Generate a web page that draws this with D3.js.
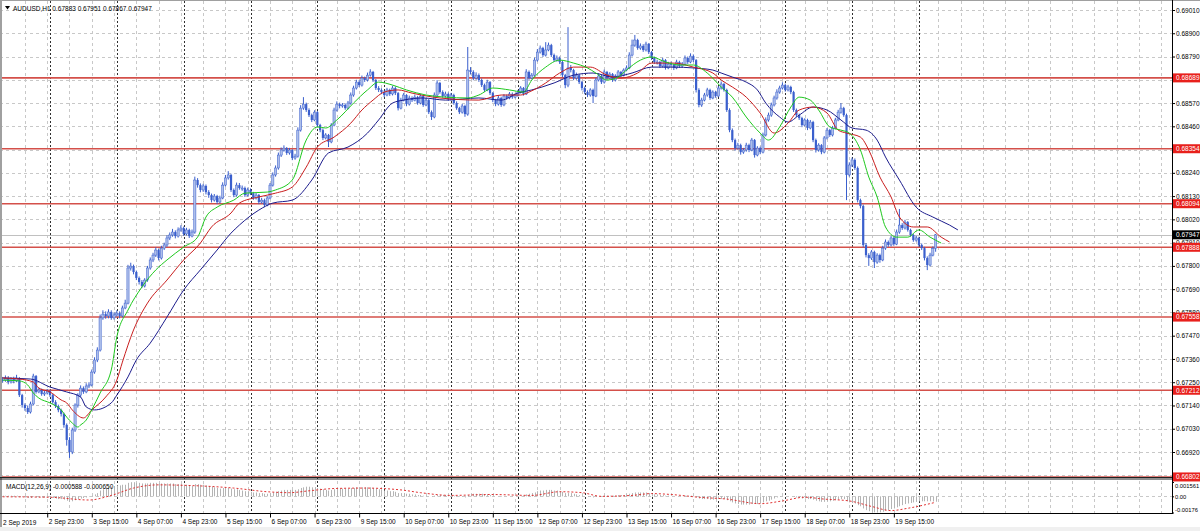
<!DOCTYPE html>
<html><head><meta charset="utf-8">
<script src="https://cdn.jsdelivr.net/npm/d3@7"></script>
<style>
body{margin:0;background:#fff;overflow:hidden;}
svg{display:block;}
text{font-family:"Liberation Sans",Arial,sans-serif;}
</style>
</head><body><svg id="c" width="1200" height="531"></svg>
<script>
// ---------------- DATA ----------------
const symbolTitle = "AUDUSD,H1";
const lastQuote = "0.67883 0.67951 0.67867 0.67947";
const macdTitle = "MACD(12,26,9) -0.000588 -0.000650";

const opens = [
0.67262,0.67260,0.67270,0.67251,0.67265,0.67256,0.67270,0.67189,0.67142,0.67128,
0.67109,0.67147,0.67279,0.67204,0.67213,0.67194,0.67199,0.67208,0.67189,0.67156,
0.67137,0.67118,0.67100,0.67048,0.66977,0.66920,0.67024,0.67142,0.67189,0.67222,
0.67204,0.67232,0.67237,0.67298,0.67355,0.67402,0.67554,0.67572,0.67563,0.67582,
0.67554,0.67568,0.67577,0.67563,0.67601,0.67624,0.67790,0.67799,0.67771,0.67743,
0.67724,0.67705,0.67733,0.67790,0.67828,0.67851,0.67875,0.67837,0.67884,0.67899,
0.67932,0.67946,0.67960,0.67941,0.67970,0.67979,0.67951,0.67970,0.67941,0.67960,
0.68206,0.68182,0.68159,0.68178,0.68149,0.68135,0.68111,0.68130,0.68102,0.68121,
0.68182,0.68216,0.68230,0.68159,0.68135,0.68182,0.68168,0.68168,0.68135,0.68159,
0.68144,0.68121,0.68135,0.68102,0.68111,0.68088,0.68121,0.68182,0.68230,0.68263,
0.68324,0.68348,0.68357,0.68334,0.68348,0.68310,0.68319,0.68442,0.68546,0.68565,
0.68537,0.68513,0.68490,0.68527,0.68466,0.68442,0.68405,0.68419,0.68386,0.68466,
0.68537,0.68565,0.68556,0.68561,0.68546,0.68570,0.68608,0.68641,0.68669,0.68655,
0.68688,0.68679,0.68702,0.68717,0.68679,0.68641,0.68632,0.68622,0.68608,0.68632,
0.68613,0.68641,0.68617,0.68546,0.68584,0.68608,0.68565,0.68594,0.68584,0.68598,
0.68570,0.68603,0.68561,0.68584,0.68527,0.68504,0.68608,0.68665,0.68622,0.68603,
0.68613,0.68589,0.68608,0.68570,0.68546,0.68527,0.68556,0.68518,0.68726,0.68717,
0.68688,0.68702,0.68679,0.68655,0.68632,0.68669,0.68617,0.68584,0.68565,0.68594,
0.68561,0.68603,0.68594,0.68613,0.68598,0.68608,0.68622,0.68641,0.68613,0.68717,
0.68688,0.68702,0.68773,0.68811,0.68830,0.68797,0.68821,0.68844,0.68797,0.68773,
0.68783,0.68764,0.68702,0.68655,0.68736,0.68726,0.68688,0.68702,0.68669,0.68641,
0.68622,0.68608,0.68632,0.68603,0.68679,0.68698,0.68669,0.68717,0.68688,0.68707,
0.68679,0.68698,0.68717,0.68702,0.68726,0.68736,0.68797,0.68844,0.68868,0.68830,
0.68840,0.68821,0.68849,0.68811,0.68783,0.68764,0.68764,0.68745,0.68773,0.68736,
0.68754,0.68750,0.68736,0.68764,0.68745,0.68754,0.68783,0.68764,0.68792,0.68773,
0.68632,0.68561,0.68584,0.68608,0.68632,0.68594,0.68622,0.68603,0.68641,0.68660,
0.68632,0.68537,0.68442,0.68395,0.68357,0.68371,0.68338,0.68348,0.68371,0.68348,
0.68395,0.68324,0.68357,0.68338,0.68419,0.68490,0.68513,0.68561,0.68594,0.68622,
0.68641,0.68655,0.68632,0.68646,0.68622,0.68537,0.68513,0.68499,0.68466,0.68490,
0.68452,0.68480,0.68395,0.68348,0.68371,0.68338,0.68405,0.68442,0.68419,0.68452,
0.68490,0.68527,0.68546,0.68513,0.68230,0.68277,0.68301,0.68263,0.68111,0.68083,
0.67899,0.67851,0.67837,0.67866,0.67818,0.67851,0.67828,0.67884,0.67913,0.67899,
0.67932,0.67903,0.67960,0.67993,0.67979,0.68007,0.67970,0.67946,0.67922,0.67932,
0.67899,0.67884,0.67837,0.67804,0.67851,0.67883];

const highs = [
0.67275,0.67282,0.67279,0.67273,0.67276,0.67285,0.67274,0.67195,0.67150,0.67140,
0.67158,0.67290,0.67284,0.67225,0.67220,0.67210,0.67218,0.67214,0.67195,0.67165,
0.67144,0.67125,0.67106,0.67055,0.66990,0.67035,0.67150,0.67198,0.67235,0.67230,
0.67245,0.67250,0.67310,0.67368,0.67415,0.67570,0.67590,0.67585,0.67595,0.67590,
0.67580,0.67590,0.67585,0.67612,0.67640,0.67805,0.67815,0.67806,0.67778,0.67750,
0.67733,0.67742,0.67800,0.67840,0.67862,0.67888,0.67882,0.67895,0.67910,0.67945,
0.67958,0.67975,0.67968,0.67982,0.67992,0.67986,0.67980,0.67976,0.67972,0.68222,
0.68215,0.68190,0.68188,0.68185,0.68158,0.68142,0.68140,0.68136,0.68132,0.68195,
0.68230,0.68248,0.68236,0.68166,0.68194,0.68192,0.68180,0.68175,0.68170,0.68166,
0.68150,0.68145,0.68140,0.68122,0.68118,0.68130,0.68192,0.68242,0.68275,0.68336,
0.68360,0.68370,0.68362,0.68358,0.68352,0.68330,0.68455,0.68560,0.68598,0.68572,
0.68545,0.68520,0.68536,0.68532,0.68472,0.68450,0.68428,0.68424,0.68475,0.68548,
0.68578,0.68572,0.68570,0.68568,0.68580,0.68620,0.68652,0.68680,0.68678,0.68700,
0.68695,0.68714,0.68730,0.68722,0.68684,0.68650,0.68640,0.68630,0.68642,0.68638,
0.68652,0.68648,0.68622,0.68595,0.68618,0.68612,0.68605,0.68602,0.68610,0.68604,
0.68612,0.68608,0.68594,0.68590,0.68535,0.68620,0.68678,0.68670,0.68630,0.68624,
0.68620,0.68618,0.68614,0.68578,0.68552,0.68566,0.68562,0.68835,0.68740,0.68725,
0.68715,0.68710,0.68686,0.68662,0.68680,0.68674,0.68622,0.68590,0.68604,0.68600,
0.68612,0.68610,0.68622,0.68620,0.68616,0.68632,0.68650,0.68646,0.68730,0.68724,
0.68712,0.68785,0.68825,0.68842,0.68836,0.68858,0.68856,0.68850,0.68804,0.68795,
0.68790,0.68770,0.68708,0.68929,0.68750,0.68732,0.68714,0.68708,0.68675,0.68648,
0.68630,0.68640,0.68638,0.68690,0.68710,0.68704,0.68728,0.68722,0.68716,0.68712,
0.68706,0.68726,0.68722,0.68734,0.68748,0.68810,0.68870,0.68892,0.68874,0.68852,
0.68848,0.68860,0.68854,0.68816,0.68790,0.68775,0.68770,0.68784,0.68778,0.68765,
0.68766,0.68756,0.68775,0.68770,0.68764,0.68795,0.68790,0.68805,0.68800,0.68778,
0.68640,0.68595,0.68618,0.68642,0.68638,0.68630,0.68628,0.68650,0.68672,0.68666,
0.68638,0.68545,0.68450,0.68402,0.68382,0.68378,0.68358,0.68382,0.68378,0.68405,
0.68400,0.68366,0.68364,0.68430,0.68502,0.68525,0.68572,0.68605,0.68635,0.68652,
0.68668,0.68662,0.68656,0.68652,0.68628,0.68544,0.68520,0.68505,0.68498,0.68496,
0.68490,0.68486,0.68402,0.68380,0.68376,0.68414,0.68452,0.68448,0.68462,0.68500,
0.68538,0.68570,0.68552,0.68520,0.68290,0.68312,0.68308,0.68270,0.68118,0.68090,
0.67908,0.67860,0.67875,0.67872,0.67860,0.67858,0.67895,0.67925,0.67920,0.67942,
0.67938,0.67972,0.68069,0.68002,0.68018,0.68012,0.67976,0.67952,0.67942,0.67938,
0.67906,0.67890,0.67845,0.67862,0.67892,0.67951];

const lows = [
0.67248,0.67252,0.67240,0.67244,0.67245,0.67250,0.67180,0.67130,0.67115,0.67100,
0.67102,0.67140,0.67196,0.67198,0.67186,0.67185,0.67192,0.67180,0.67148,0.67128,
0.67108,0.67088,0.67035,0.66950,0.66892,0.66910,0.67015,0.67130,0.67180,0.67195,
0.67198,0.67222,0.67230,0.67290,0.67345,0.67395,0.67545,0.67550,0.67552,0.67545,
0.67546,0.67560,0.67552,0.67556,0.67595,0.67618,0.67778,0.67760,0.67733,0.67712,
0.67695,0.67698,0.67725,0.67782,0.67818,0.67842,0.67826,0.67830,0.67875,0.67890,
0.67922,0.67938,0.67930,0.67934,0.67962,0.67942,0.67944,0.67932,0.67935,0.67952,
0.68170,0.68148,0.68150,0.68138,0.68122,0.68100,0.68104,0.68092,0.68095,0.68115,
0.68175,0.68208,0.68150,0.68125,0.68128,0.68160,0.68155,0.68126,0.68128,0.68135,
0.68112,0.68114,0.68092,0.68094,0.68078,0.68082,0.68115,0.68175,0.68222,0.68255,
0.68315,0.68340,0.68325,0.68326,0.68300,0.68302,0.68312,0.68435,0.68538,0.68528,
0.68504,0.68480,0.68484,0.68455,0.68432,0.68395,0.68398,0.68362,0.68380,0.68460,
0.68530,0.68545,0.68548,0.68538,0.68540,0.68562,0.68600,0.68634,0.68646,0.68648,
0.68670,0.68672,0.68695,0.68670,0.68632,0.68622,0.68612,0.68598,0.68602,0.68604,
0.68606,0.68608,0.68535,0.68540,0.68578,0.68555,0.68558,0.68575,0.68578,0.68562,
0.68564,0.68552,0.68555,0.68518,0.68490,0.68498,0.68600,0.68614,0.68595,0.68596,
0.68580,0.68582,0.68562,0.68538,0.68518,0.68520,0.68505,0.68510,0.68705,0.68678,
0.68680,0.68670,0.68646,0.68622,0.68626,0.68608,0.68574,0.68555,0.68558,0.68552,
0.68555,0.68586,0.68588,0.68590,0.68592,0.68600,0.68615,0.68605,0.68608,0.68680,
0.68682,0.68695,0.68766,0.68804,0.68788,0.68790,0.68815,0.68788,0.68765,0.68766,
0.68755,0.68692,0.68640,0.68645,0.68715,0.68678,0.68680,0.68660,0.68630,0.68612,
0.68598,0.68600,0.68570,0.68598,0.68672,0.68660,0.68662,0.68680,0.68682,0.68670,
0.68672,0.68690,0.68694,0.68696,0.68720,0.68730,0.68790,0.68836,0.68822,0.68822,
0.68812,0.68814,0.68802,0.68774,0.68755,0.68752,0.68736,0.68738,0.68728,0.68730,
0.68740,0.68726,0.68730,0.68736,0.68738,0.68748,0.68755,0.68758,0.68764,0.68620,
0.68550,0.68552,0.68578,0.68600,0.68585,0.68588,0.68595,0.68598,0.68634,0.68624,
0.68528,0.68432,0.68385,0.68345,0.68350,0.68326,0.68330,0.68340,0.68338,0.68342,
0.68312,0.68318,0.68328,0.68332,0.68412,0.68482,0.68505,0.68554,0.68586,0.68614,
0.68634,0.68624,0.68625,0.68612,0.68528,0.68504,0.68490,0.68456,0.68460,0.68442,
0.68446,0.68385,0.68336,0.68340,0.68328,0.68332,0.68398,0.68410,0.68412,0.68446,
0.68484,0.68520,0.68505,0.68111,0.68222,0.68268,0.68254,0.68100,0.68072,0.67888,
0.67840,0.67800,0.67828,0.67790,0.67810,0.67815,0.67822,0.67876,0.67890,0.67892,
0.67895,0.67898,0.67952,0.67970,0.67972,0.67962,0.67938,0.67914,0.67915,0.67890,
0.67875,0.67826,0.67780,0.67798,0.67845,0.67867];

const closes = [
0.67260,0.67270,0.67251,0.67265,0.67256,0.67270,0.67189,0.67142,0.67128,0.67109,
0.67147,0.67279,0.67204,0.67213,0.67194,0.67199,0.67208,0.67189,0.67156,0.67137,
0.67118,0.67100,0.67048,0.66977,0.66920,0.67024,0.67142,0.67189,0.67222,0.67204,
0.67232,0.67237,0.67298,0.67355,0.67402,0.67554,0.67572,0.67563,0.67582,0.67554,
0.67568,0.67577,0.67563,0.67601,0.67624,0.67790,0.67799,0.67771,0.67743,0.67724,
0.67705,0.67733,0.67790,0.67828,0.67851,0.67875,0.67837,0.67884,0.67899,0.67932,
0.67946,0.67960,0.67941,0.67970,0.67979,0.67951,0.67970,0.67941,0.67960,0.68206,
0.68182,0.68159,0.68178,0.68149,0.68135,0.68111,0.68130,0.68102,0.68121,0.68182,
0.68216,0.68230,0.68159,0.68135,0.68182,0.68168,0.68168,0.68135,0.68159,0.68144,
0.68121,0.68135,0.68102,0.68111,0.68088,0.68121,0.68182,0.68230,0.68263,0.68324,
0.68348,0.68357,0.68334,0.68348,0.68310,0.68319,0.68442,0.68546,0.68565,0.68537,
0.68513,0.68490,0.68527,0.68466,0.68442,0.68405,0.68419,0.68386,0.68466,0.68537,
0.68565,0.68556,0.68561,0.68546,0.68570,0.68608,0.68641,0.68669,0.68655,0.68688,
0.68679,0.68702,0.68717,0.68679,0.68641,0.68632,0.68622,0.68608,0.68632,0.68613,
0.68641,0.68617,0.68546,0.68584,0.68608,0.68565,0.68594,0.68584,0.68598,0.68570,
0.68603,0.68561,0.68584,0.68527,0.68504,0.68608,0.68665,0.68622,0.68603,0.68613,
0.68589,0.68608,0.68570,0.68546,0.68527,0.68556,0.68518,0.68726,0.68717,0.68688,
0.68702,0.68679,0.68655,0.68632,0.68669,0.68617,0.68584,0.68565,0.68594,0.68561,
0.68603,0.68594,0.68613,0.68598,0.68608,0.68622,0.68641,0.68613,0.68717,0.68688,
0.68702,0.68773,0.68811,0.68830,0.68797,0.68821,0.68844,0.68797,0.68773,0.68783,
0.68764,0.68702,0.68655,0.68736,0.68726,0.68688,0.68702,0.68669,0.68641,0.68622,
0.68608,0.68632,0.68603,0.68679,0.68698,0.68669,0.68717,0.68688,0.68707,0.68679,
0.68698,0.68717,0.68702,0.68726,0.68736,0.68797,0.68844,0.68868,0.68830,0.68840,
0.68821,0.68849,0.68811,0.68783,0.68764,0.68764,0.68745,0.68773,0.68736,0.68754,
0.68750,0.68736,0.68764,0.68745,0.68754,0.68783,0.68764,0.68792,0.68773,0.68632,
0.68561,0.68584,0.68608,0.68632,0.68594,0.68622,0.68603,0.68641,0.68660,0.68632,
0.68537,0.68442,0.68395,0.68357,0.68371,0.68338,0.68348,0.68371,0.68348,0.68395,
0.68324,0.68357,0.68338,0.68419,0.68490,0.68513,0.68561,0.68594,0.68622,0.68641,
0.68655,0.68632,0.68646,0.68622,0.68537,0.68513,0.68499,0.68466,0.68490,0.68452,
0.68480,0.68395,0.68348,0.68371,0.68338,0.68405,0.68442,0.68419,0.68452,0.68490,
0.68527,0.68546,0.68513,0.68230,0.68277,0.68301,0.68263,0.68111,0.68083,0.67899,
0.67851,0.67837,0.67866,0.67818,0.67851,0.67828,0.67884,0.67913,0.67899,0.67932,
0.67903,0.67960,0.67993,0.67979,0.68007,0.67970,0.67946,0.67922,0.67932,0.67899,
0.67884,0.67837,0.67804,0.67851,0.67883,0.67947];

// moving averages (bar index, price)
const maFastBars = [0,6,9,11,13,17,21,23,25,27,28,30,32,35,39,41,45,50,55,59,65,70,73,77,83,87,95,98,104,109,113,116,120,126,131,135,140,145,152,159,167,171,176,182,187,190,195,200,205,210,213,217,221,224,229,233,238,243,248,253,258,262,267,272,275,279,283,286,290,293,297,301,304,308,311,314,317,321,325,329,333,337];
const maFastVals = [0.67260,0.67256,0.67237,0.67199,0.67175,0.67152,0.67119,0.67085,0.67057,0.67038,0.67048,0.67071,0.67119,0.67199,0.67308,0.67464,0.67591,0.67700,0.67781,0.67828,0.67889,0.67936,0.68031,0.68078,0.68111,0.68144,0.68149,0.68159,0.68206,0.68395,0.68457,0.68452,0.68490,0.68570,0.68632,0.68669,0.68655,0.68632,0.68608,0.68598,0.68594,0.68608,0.68641,0.68632,0.68622,0.68679,0.68740,0.68773,0.68759,0.68736,0.68712,0.68679,0.68693,0.68726,0.68773,0.68788,0.68764,0.68750,0.68750,0.68712,0.68646,0.68598,0.68504,0.68428,0.68395,0.68457,0.68551,0.68598,0.68584,0.68537,0.68457,0.68442,0.68428,0.68348,0.68220,0.68126,0.67984,0.67936,0.67936,0.67970,0.67936,0.67908];
const maMidBars = [0,6,11,13,17,21,23,25,29,32,37,41,43,47,52,59,65,71,75,82,85,92,98,104,109,113,119,125,129,133,137,142,147,157,171,179,186,189,195,200,205,211,217,222,228,233,241,248,255,258,262,267,272,277,282,286,291,296,300,303,308,311,315,319,322,327,332,337,340];
const maMidVals = [0.67270,0.67265,0.67251,0.67222,0.67204,0.67166,0.67152,0.67119,0.67081,0.67119,0.67180,0.67260,0.67345,0.67497,0.67624,0.67733,0.67828,0.67908,0.67984,0.68050,0.68097,0.68126,0.68144,0.68173,0.68267,0.68362,0.68409,0.68475,0.68537,0.68584,0.68622,0.68632,0.68617,0.68594,0.68584,0.68608,0.68608,0.68622,0.68665,0.68712,0.68740,0.68740,0.68702,0.68688,0.68712,0.68759,0.68759,0.68740,0.68712,0.68679,0.68646,0.68598,0.68523,0.68428,0.68475,0.68537,0.68551,0.68523,0.68442,0.68428,0.68409,0.68348,0.68220,0.68126,0.68031,0.67984,0.67984,0.67936,0.67913];
const maSlowBars = [0,10,17,23,28,30,33,39,41,45,48,53,59,65,71,77,82,85,92,97,104,111,117,124,131,135,140,144,151,159,171,179,185,190,198,205,212,219,226,233,241,248,255,258,262,267,271,274,279,282,286,291,296,301,305,310,314,317,322,328,334,340,343];
const maSlowVals = [0.67270,0.67265,0.67227,0.67204,0.67180,0.67133,0.67119,0.67152,0.67189,0.67275,0.67355,0.67435,0.67558,0.67686,0.67781,0.67875,0.67955,0.67993,0.68064,0.68097,0.68111,0.68206,0.68334,0.68362,0.68428,0.68490,0.68570,0.68584,0.68594,0.68584,0.68594,0.68584,0.68617,0.68632,0.68665,0.68702,0.68712,0.68693,0.68712,0.68740,0.68740,0.68736,0.68726,0.68712,0.68693,0.68669,0.68632,0.68570,0.68504,0.68480,0.68513,0.68551,0.68537,0.68490,0.68452,0.68442,0.68395,0.68315,0.68206,0.68078,0.68031,0.67993,0.67970];

// MACD main (histogram) per bar
const macdMain = [
0.00007,0.00007,0.00007,0.00007,0.00007,0.00007,0,-0.00006,-0.00012,-0.00018,
-0.00018,-0.00006,-0.00012,-0.00012,-0.00012,-0.00012,-0.00012,-0.00018,-0.00018,-0.00024,
-0.0003,-0.0003,-0.00036,-0.00048,-0.0006,-0.00054,-0.00042,-0.0003,-0.00024,-0.00018,
-0.00012,-0.00006,0.00007,0.00021,0.00035,0.00063,0.00077,0.00091,0.00098,0.00105,
0.00112,0.00119,0.00119,0.00126,0.00126,0.00147,0.00154,0.00154,0.00147,0.00147,
0.0014,0.0014,0.0014,0.00147,0.00147,0.00147,0.0014,0.0014,0.0014,0.0014,
0.0014,0.0014,0.00133,0.00133,0.00133,0.00126,0.00126,0.00119,0.00112,0.00133,
0.00133,0.00126,0.00126,0.00119,0.00112,0.00105,0.00098,0.00091,0.00084,0.00091,
0.00091,0.00091,0.00084,0.00077,0.00077,0.0007,0.00063,0.00056,0.00056,0.00049,
0.00042,0.00042,0.00035,0.00035,0.00028,0.00028,0.00035,0.00042,0.00049,0.00056,
0.00063,0.0007,0.0007,0.0007,0.0007,0.0007,0.00077,0.00091,0.00098,0.00105,
0.00105,0.00098,0.00098,0.00091,0.00084,0.00077,0.0007,0.00063,0.0007,0.00077,
0.00084,0.00084,0.00084,0.00084,0.00084,0.00091,0.00091,0.00098,0.00098,0.00098,
0.00098,0.00098,0.00098,0.00091,0.00084,0.00077,0.0007,0.00063,0.00063,0.00056,
0.00056,0.00049,0.00035,0.00035,0.00035,0.00028,0.00028,0.00021,0.00021,0.00014,
0.00014,0.00007,0.00007,0,-0.00006,0.00007,0.00014,0.00014,0.00014,0.00014,
0.00014,0.00014,0.00007,0,-0.00006,-0.00006,-0.00012,0.00014,0.00021,0.00028,
0.00028,0.00028,0.00028,0.00021,0.00021,0.00014,0.00007,0,0,-0.00006,
0,0,0,0,0,0,0.00007,0.00007,0.00021,0.00028,
0.00035,0.00042,0.00056,0.00063,0.00063,0.0007,0.0007,0.0007,0.00063,0.00063,
0.00056,0.00049,0.00035,0.00035,0.00035,0.00028,0.00021,0.00014,0.00007,0,
-0.00006,-0.00006,-0.00012,-0.00006,0,0,0.00007,0.00007,0.00007,0.00007,
0.00007,0.00014,0.00014,0.00014,0.00021,0.00028,0.00035,0.00042,0.00042,0.00042,
0.00042,0.00042,0.00035,0.00028,0.00021,0.00021,0.00014,0.00014,0.00007,0.00007,
0,0,0,0,0,0.00007,0.00007,0.00007,0.00007,-0.00012,
-0.00024,-0.0003,-0.0003,-0.0003,-0.00036,-0.00036,-0.00036,-0.0003,-0.0003,-0.0003,
-0.00042,-0.00054,-0.00066,-0.00078,-0.00084,-0.0009,-0.0009,-0.0009,-0.0009,-0.00084,
-0.00084,-0.00084,-0.00078,-0.00066,-0.00054,-0.00048,-0.00036,-0.00024,-0.00012,-0.00006,
0,0,0,0,-0.00006,-0.00012,-0.00018,-0.00024,-0.00024,-0.0003,
-0.0003,-0.00036,-0.00048,-0.00054,-0.0006,-0.0006,-0.00054,-0.00054,-0.00048,-0.00042,
-0.00036,-0.0003,-0.0003,-0.00054,-0.00066,-0.00072,-0.00078,-0.00096,-0.00108,-0.00132,
-0.0015,-0.00162,-0.00168,-0.00174,-0.00176,-0.00174,-0.00168,-0.00156,-0.0015,-0.00138,
-0.00132,-0.0012,-0.00108,-0.00096,-0.00084,-0.00078,-0.00072,-0.00066,-0.0006,-0.00054,
-0.00054,-0.00054,-0.00054,-0.00054,-0.00056,-0.000588];
const signalBars = [0,17,31,39,47,56,65,83,95,103,110,119,130,143,150,161,175,190,200,208,215,226,233,240,250,260,272,280,288,295,304,312,319,325,335];
const signalVals = [-0.00005,-0.0001,-0.0004,0.0001,0.0009,0.00125,0.0012,0.0009,0.0005,0.0004,0.0006,0.00085,0.0009,0.0007,0.0004,0.0001,0.0002,0.0001,0.0005,0.0004,0.0000,0.0001,0.0003,0.0002,-0.0001,-0.0003,-0.0008,-0.0005,-0.0001,-0.0003,-0.0005,-0.0011,-0.00155,-0.0013,-0.00065];

// axes
const priceTicks = [0.69010,0.68900,0.68790,0.68680,0.68570,0.68460,0.68350,0.68240,0.68130,0.68020,0.67910,0.67800,0.67690,0.67580,0.67470,0.67360,0.67250,0.67140,0.67030,0.66920,0.66810];
const levelLines = [0.68689,0.68354,0.68094,0.67888,0.67558,0.67212,0.66802];
const currentPrice = 0.67947;
const macdTicks = [0.001561,0,-0.00176];
const macdTickLabels = ["0.001561","0.00","-0.00176"];
const timeTickBars = [16,32,48,64,80,96,112,128,144,160,176,192,208,224,240,256,272,288,304,320];
const timeTickLabels = ["2 Sep 23:00","3 Sep 15:00","4 Sep 07:00","4 Sep 23:00","5 Sep 15:00","6 Sep 07:00","6 Sep 23:00","9 Sep 15:00","10 Sep 07:00","10 Sep 23:00","11 Sep 15:00","12 Sep 07:00","12 Sep 23:00","13 Sep 15:00","16 Sep 07:00","16 Sep 23:00","17 Sep 15:00","18 Sep 07:00","18 Sep 23:00","19 Sep 15:00"];
const firstBarLabel = "2 Sep 2019";
const daySeparatorBars = [17,41,65,89,113,137,161,185,209,233,257,281,305,329];
const gridBars = [8,16,24,32,40,48,56,64,72,80,88,96,104,112,120,128,136,144,152,160,168,176,184,192,200,208,216,224,232,240,248,256,264,272,280,288,296,304,312,320,328,336,344,352,360,368,376,384,392,400,408,416];

// ---------------- LAYOUT ----------------
const W = 1200, H = 531;
const plotR = 1172;
const mainTop = 1, mainBot = 477.5;
const subTop = 479.5, subBot = 513.5;
const FS = 6.5;

const svg = d3.select("#c");
const x = d3.scaleLinear().domain([0, 335]).range([2.65, 2.65 + 335 * 2.785]);
const y = d3.scaleLinear().domain([0.69010, 0.66920]).range([10, 452]);
const ym = d3.scaleLinear().domain([0.001561, -0.00176]).range([482, 512.5]);

svg.append("rect").attr("width", W).attr("height", H).attr("fill", "#fff");
svg.append("rect").attr("x",0).attr("y",527).attr("width",W).attr("height",4).attr("fill","#f0f0f0");

const defs = svg.append("defs");
defs.append("clipPath").attr("id","clipMain").append("rect").attr("x",0).attr("y",mainTop).attr("width",plotR).attr("height",mainBot-mainTop);
defs.append("clipPath").attr("id","clipSub").append("rect").attr("x",0).attr("y",subTop).attr("width",plotR).attr("height",subBot-subTop);

// grids
const grid = svg.append("g");
grid.selectAll(".vg").data(gridBars.filter(d => x(d) < plotR)).join("line")
  .attr("x1", d => Math.round(x(d)) + 0.5).attr("x2", d => Math.round(x(d)) + 0.5)
  .attr("y1", mainTop).attr("y2", subBot)
  .attr("stroke", "#c8c8c8").attr("stroke-width", 1).attr("stroke-dasharray", "3,3");
grid.selectAll(".hg").data(priceTicks).join("line")
  .attr("x1", 0).attr("x2", plotR)
  .attr("y1", d => Math.round(y(d)) + 0.5).attr("y2", d => Math.round(y(d)) + 0.5)
  .attr("stroke", "#c8c8c8").attr("stroke-width", 1).attr("stroke-dasharray", "3,3");
grid.selectAll(".mg").data([0]).join("line")
  .attr("x1", 0).attr("x2", plotR)
  .attr("y1", d => Math.round(ym(d)) + 0.5).attr("y2", d => Math.round(ym(d)) + 0.5)
  .attr("stroke", "#c8c8c8").attr("stroke-dasharray", "3,3");
grid.selectAll(".ps").data(daySeparatorBars).join("line")
  .attr("x1", d => Math.round(x(d)) + 0.5).attr("x2", d => Math.round(x(d)) + 0.5)
  .attr("y1", mainTop).attr("y2", subBot)
  .attr("stroke", "#303030").attr("stroke-width", 1).attr("stroke-dasharray", "2,2");

// current price line
svg.append("line").attr("x1",0).attr("x2",plotR)
  .attr("y1", Math.round(y(currentPrice))+0.5).attr("y2", Math.round(y(currentPrice))+0.5)
  .attr("stroke","#c0c0c0").attr("stroke-width",1);

// level lines
svg.append("g").selectAll("line").data(levelLines).join("line")
  .attr("x1", 0).attr("x2", plotR)
  .attr("y1", d => y(d)).attr("y2", d => y(d))
  .attr("stroke", "#d4504a").attr("stroke-width", 1.6);

// candles
const idx = d3.range(closes.length);
const cg = svg.append("g").attr("clip-path","url(#clipMain)");
const blue = "#3a5fcd";
cg.selectAll(".wick").data(idx).join("line")
  .attr("x1", i => x(i)).attr("x2", i => x(i))
  .attr("y1", i => y(highs[i])).attr("y2", i => y(lows[i]))
  .attr("stroke", blue).attr("stroke-width", 1);
cg.selectAll(".body").data(idx).join("rect")
  .attr("x", i => x(i) - 1.1).attr("width", 2.2)
  .attr("y", i => y(Math.max(opens[i], closes[i])))
  .attr("height", i => Math.max(1, Math.abs(y(opens[i]) - y(closes[i]))))
  .attr("fill", i => closes[i] >= opens[i] ? "#aebfea" : blue)
  .attr("stroke", blue).attr("stroke-width", i => closes[i] >= opens[i] ? 0.5 : 0);

// moving averages
const maLine = d3.line().curve(d3.curveMonotoneX);
function drawMA(bars, vals, color) {
  cg.append("path").attr("d", maLine(bars.map((b, k) => [x(b), y(vals[k])])))
    .attr("fill", "none").attr("stroke", color).attr("stroke-width", 1);
}
drawMA(maSlowBars, maSlowVals, "#1c1c8c");
drawMA(maMidBars, maMidVals, "#c81e1e");
drawMA(maFastBars, maFastVals, "#1ec81e");

// MACD
const sg = svg.append("g").attr("clip-path","url(#clipSub)");
sg.selectAll(".h").data(idx).join("line")
  .attr("x1", i => Math.round(x(i)) + 0.5).attr("x2", i => Math.round(x(i)) + 0.5)
  .attr("y1", ym(0)).attr("y2", i => ym(macdMain[i]))
  .attr("stroke", "#b4b4b4").attr("stroke-width", 1);
sg.append("path").attr("d", d3.line().curve(d3.curveMonotoneX)(signalBars.map((b,k)=>[x(b), ym(signalVals[k])])))
  .attr("fill","none").attr("stroke","#e03232").attr("stroke-width",1).attr("stroke-dasharray","2,2");

// window borders
const frame = svg.append("g");
frame.append("rect").attr("x",0).attr("y",0).attr("width",2).attr("height",527).attr("fill","#a0a0a0");
frame.append("line").attr("x1",0).attr("x2",W).attr("y1",0.5).attr("y2",0.5).attr("stroke","#a0a0a0");
frame.append("line").attr("x1",plotR+0.5).attr("x2",plotR+0.5).attr("y1",0).attr("y2",subBot).attr("stroke","#000");
frame.append("line").attr("x1",0).attr("x2",plotR).attr("y1",mainBot).attr("y2",mainBot).attr("stroke","#202020").attr("stroke-width",1);
frame.append("line").attr("x1",0).attr("x2",plotR).attr("y1",subTop-0.5).attr("y2",subTop-0.5).attr("stroke","#202020").attr("stroke-width",1);
frame.append("line").attr("x1",0).attr("x2",plotR+1).attr("y1",subBot).attr("y2",subBot).attr("stroke","#000");

// price axis
const fmt5 = d3.format(".5f");
const pa = svg.append("g").attr("transform", `translate(${plotR},0)`)
  .call(d3.axisRight(y).tickValues(priceTicks).tickFormat(fmt5).tickSize(3).tickPadding(1));
pa.select(".domain").remove();
pa.selectAll("text").attr("font-size", FS).attr("fill", "#000").attr("font-family", '"Liberation Sans",Arial,sans-serif');
pa.selectAll("line").attr("stroke", "#000");

// level labels
const lv = svg.append("g");
levelLines.forEach(v => {
  lv.append("rect").attr("x", plotR + 1).attr("y", y(v) - 4.5).attr("width", W - plotR - 1).attr("height", 9).attr("fill", "#e8201c");
  lv.append("text").attr("x", plotR + 4).attr("y", y(v)).attr("dy", "0.35em").attr("font-size", FS).attr("fill", "#fff").text(fmt5(v));
});
lv.append("rect").attr("x", plotR + 1).attr("y", y(currentPrice) - 4.5).attr("width", W - plotR - 1).attr("height", 9).attr("fill", "#000");
lv.append("text").attr("x", plotR + 4).attr("y", y(currentPrice)).attr("dy", "0.35em").attr("font-size", FS).attr("fill", "#fff").text(fmt5(currentPrice));

// MACD axis
const ma = svg.append("g").attr("transform", `translate(${plotR},0)`)
  .call(d3.axisRight(ym).tickValues(macdTicks).tickFormat((d,i)=>macdTickLabels[i]).tickSize(2).tickPadding(1));
ma.select(".domain").remove();
ma.selectAll("text").attr("font-size", 5.8).attr("fill", "#000").attr("font-family", '"Liberation Sans",Arial,sans-serif')
  .attr("dy", (d,i) => i === 0 ? "0.95em" : (i === 2 ? "-0.15em" : "0.32em"));

// time axis
const ta = svg.append("g").attr("transform", `translate(0,${subBot})`)
  .call(d3.axisBottom(x).tickValues(timeTickBars).tickFormat((d,i)=>timeTickLabels[i]).tickSize(4).tickPadding(2));
ta.select(".domain").remove();
ta.selectAll("text").attr("font-size", FS).attr("fill", "#000").attr("text-anchor", "start").attr("dx", 1)
  .attr("font-family", '"Liberation Sans",Arial,sans-serif');
svg.append("text").attr("x", 3).attr("y", 524.5).attr("font-size", FS).attr("fill", "#000").text(firstBarLabel);

// titles
svg.append("path").attr("d", "M5,6 L10,6 L7.5,9.5 Z").attr("fill", "#000");
svg.append("text").attr("x", 13).attr("y", 10.5).attr("font-size", FS).attr("fill", "#000").text(symbolTitle + "  " + lastQuote);
svg.append("text").attr("x", 6).attr("y", 489).attr("font-size", FS).attr("fill", "#000").text(macdTitle);
</script>
</body></html>
